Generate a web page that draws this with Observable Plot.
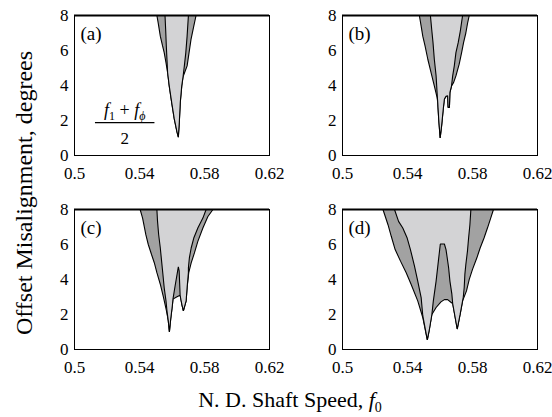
<!DOCTYPE html>
<html><head><meta charset="utf-8">
<script src="https://cdn.jsdelivr.net/npm/d3@7"></script>
<script src="https://cdn.jsdelivr.net/npm/@observablehq/plot@0.6"></script>
<style>html,body{margin:0;padding:0;background:#fff}</style>
</head><body><div id="chart"></div>
<script>
// ---- data ----
const panels = ["a", "b", "c", "d"];
const panelCol = [0, 1, 0, 1];
const panelRow = [0, 0, 1, 1];
const xTicks = [0.5, 0.54, 0.58, 0.62];
const yTicks = [0, 2, 4, 6, 8];

// boundary vertices [f0, misalignment] of the outer (dark) and inner (light) regions
const aDark = [[0.5507,8],[0.5515,7.58],[0.5528,6.82],[0.5542,6.26],[0.5552,5.88],[0.5563,5.31],[0.5573,4.74],[0.5583,3.98],[0.5598,3.04],[0.5614,2.09],[0.5631,1.34],[0.5639,1.05],[0.5645,1.9],[0.5651,3.04],[0.5660,3.98],[0.5668,4.5],[0.5693,5.12],[0.5705,5.88],[0.5717,6.64],[0.5734,7.39],[0.5748,8]];
const aLight = [[0.5557,8],[0.5561,7.2],[0.5565,6.26],[0.5569,5.5],[0.5573,4.74],[0.5583,3.98],[0.5598,3.04],[0.5614,2.09],[0.5631,1.34],[0.5639,1.05],[0.5645,1.9],[0.5651,3.04],[0.5660,3.98],[0.5668,4.5],[0.5676,5.12],[0.5685,5.88],[0.5693,6.82],[0.5701,8]];
const bDark = [[0.5473,8],[0.5484,7.39],[0.5494,6.82],[0.5508,6.26],[0.5525,5.5],[0.5545,4.74],[0.5565,3.98],[0.5582,3.32],[0.5586,3.04],[0.5592,2.09],[0.5601,1.0],[0.5610,1.71],[0.5620,2.66],[0.5627,3.23],[0.5637,3.38],[0.5647,3.41],[0.5650,2.75],[0.5658,2.75],[0.5661,3.6],[0.5671,3.98],[0.5684,4.18],[0.5698,4.55],[0.5718,5.22],[0.5733,5.88],[0.5745,6.45],[0.5759,7.0],[0.5770,7.58],[0.5780,8]];
const bLight = [[0.5541,8],[0.5549,7.2],[0.5557,6.45],[0.5565,5.5],[0.5576,4.55],[0.5582,3.6],[0.5586,3.04],[0.5592,2.09],[0.5601,1.0],[0.5610,1.71],[0.5620,2.66],[0.5627,3.23],[0.5637,3.38],[0.5647,3.41],[0.5650,2.75],[0.5658,2.75],[0.5661,3.6],[0.5671,3.98],[0.5678,4.55],[0.5688,5.12],[0.5698,5.88],[0.5712,6.45],[0.5725,7.11],[0.5739,8]];
const cDark = [[0.5404,8],[0.5419,7.51],[0.5429,7.04],[0.5439,6.56],[0.5454,6.0],[0.5474,5.43],[0.5491,4.96],[0.5507,4.39],[0.5528,3.73],[0.5548,2.97],[0.5566,2.21],[0.5577,1.65],[0.5584,1.0],[0.5592,1.74],[0.5602,2.5],[0.5606,2.88],[0.5628,3.0],[0.5650,3.1],[0.5660,2.6],[0.5670,2.21],[0.5687,2.78],[0.5693,3.54],[0.5703,4.39],[0.5718,4.95],[0.5738,5.52],[0.5759,6.18],[0.5790,6.94],[0.5821,7.6],[0.5852,8]];
const cLight = [[0.5507,8],[0.5511,7.32],[0.5518,6.56],[0.5528,5.80],[0.5536,5.05],[0.5544,4.30],[0.5552,3.53],[0.5563,2.78],[0.5569,2.21],[0.5577,1.65],[0.5584,1.0],[0.5592,1.74],[0.5602,2.5],[0.5606,2.88],[0.5619,3.63],[0.5633,4.39],[0.5639,4.72],[0.5644,4.5],[0.5647,3.8],[0.5650,3.1],[0.5660,2.6],[0.5670,2.21],[0.5687,2.78],[0.5693,3.54],[0.5701,4.4],[0.5701,4.67],[0.5707,5.24],[0.5718,5.80],[0.5734,6.37],[0.5759,6.94],[0.5790,7.51],[0.5810,8]];
const dDark = [[0.5249,8],[0.5280,7.13],[0.5300,6.47],[0.5324,5.71],[0.5357,5.05],[0.5392,4.39],[0.5422,3.73],[0.5463,2.78],[0.5494,1.83],[0.5522,0.55],[0.5535,1.17],[0.5550,2.0],[0.5576,2.40],[0.5606,2.72],[0.5627,2.85],[0.5647,2.85],[0.5667,2.70],[0.5678,2.63],[0.5706,1.17],[0.5724,2.02],[0.5739,2.78],[0.5763,3.35],[0.5780,4.01],[0.5800,4.58],[0.5827,5.24],[0.5847,5.80],[0.5871,6.37],[0.5892,6.94],[0.5912,7.51],[0.5929,8]];
const dLight = [[0.5320,8],[0.5345,7.32],[0.5371,6.94],[0.5398,6.37],[0.5418,5.71],[0.5443,4.77],[0.5463,3.91],[0.5484,2.97],[0.5494,1.93],[0.5522,0.55],[0.5535,1.17],[0.5550,2.0],[0.5559,2.78],[0.5576,3.91],[0.5590,5.05],[0.5602,6.03],[0.5627,6.03],[0.5637,5.71],[0.5643,5.33],[0.5653,4.67],[0.5661,3.91],[0.5673,3.16],[0.5678,2.63],[0.5706,1.17],[0.5724,2.02],[0.5739,2.78],[0.5743,2.97],[0.5749,3.54],[0.5753,4.29],[0.5759,4.86],[0.5769,5.62],[0.5776,6.37],[0.5784,7.13],[0.5790,8]];

const darkSets = [aDark, bDark, cDark, dDark];
const lightSets = [aLight, bLight, cLight, dLight];

// ---- build table ----
function toRows(sets, kind) {
  const out = [];
  sets.forEach((pts, i) => pts.forEach(([x, y]) =>
    out.push({key: panels[i] + kind, x, y, col: panelCol[i], row: panelRow[i]})));
  return out;
}
const darkRows = toRows(darkSets, "dark");
const lightRows = toRows(lightSets, "light");

const FONT = "Liberation Serif";
const DARK = "#a2a2a2";
const LIGHT = "#d3d3d5";

const chart = Plot.plot({
  width: 552, height: 417,
  marginTop: 15, marginBottom: 68, marginLeft: 74, marginRight: 15,
  style: {fontFamily: FONT, fontSize: "17px", background: "white", color: "black"},
  fx: {domain: [0, 1], paddingInner: 0.2724, paddingOuter: 0, axis: null},
  fy: {domain: [0, 1], paddingInner: 0.2784, paddingOuter: 0, axis: null},
  x: {domain: [0.5, 0.62]},
  y: {domain: [0, 8]},
  marks: [
    Plot.line(darkRows, {x: "x", y: "y", z: "key", fx: "col", fy: "row", fill: DARK, stroke: "black", strokeWidth: 1.1, strokeLinejoin: "miter", strokeLinecap: "butt"}),
    Plot.line(lightRows, {x: "x", y: "y", z: "key", fx: "col", fy: "row", fill: LIGHT, stroke: "black", strokeWidth: 1.1, strokeLinejoin: "miter", strokeLinecap: "butt"}),
    Plot.ruleY([8], {stroke: "black", strokeWidth: 2.2}),
    Plot.frame({stroke: "black", strokeWidth: 1}),
    Plot.axisX({ticks: xTicks, tickSize: 0, tickPadding: 11, tickFormat: d => String(d), facetAnchor: null, label: null, fontSize: 17, fontFamily: FONT}),
    Plot.axisY({ticks: yTicks, tickSize: 0, tickPadding: 6, facetAnchor: null, label: null, fontSize: 17, fontFamily: FONT}),
    Plot.text(panels, {fx: (d, i) => panelCol[i], fy: (d, i) => panelRow[i], text: d => `(${d})`, frameAnchor: "top-left", dx: 6, dy: 11, lineAnchor: "top", textAnchor: "start", fontSize: 19, fontFamily: FONT})
  ]
});
document.getElementById("chart").appendChild(chart);

// ---- annotations (titles and the frequency fraction) ----
const svg = d3.select(chart);
const fxS = chart.scale("fx"), fyS = chart.scale("fy");
const left0 = fxS.apply(0), bw = fxS.bandwidth;
const top0 = fyS.apply(0), bh = fyS.bandwidth;
const xa = d3.scaleLinear([0.5, 0.62], [left0, left0 + bw]);
const ya = d3.scaleLinear([0, 8], [top0 + bh, top0]);

const fracX = 0.5312, fracY = 1.85, fracHalf = 0.0183;
const g = svg.append("g").attr("font-family", FONT).attr("fill", "black");
g.append("line").attr("x1", xa(fracX - fracHalf)).attr("x2", xa(fracX + fracHalf))
  .attr("y1", ya(fracY)).attr("y2", ya(fracY)).attr("stroke", "black").attr("stroke-width", 1.2);
const num = g.append("text").attr("x", xa(fracX)).attr("y", ya(fracY) - 6.5)
  .attr("text-anchor", "middle").attr("font-size", 18);
num.append("tspan").attr("font-style", "italic").text("f");
num.append("tspan").attr("font-size", 12).attr("dy", 4).text("1");
num.append("tspan").attr("dy", -4).text(" + ");
num.append("tspan").attr("font-style", "italic").text("f");
num.append("tspan").attr("font-size", 12).attr("font-style", "italic").attr("dy", 4).text("\u03d5");
g.append("text").attr("x", xa(fracX)).attr("y", ya(fracY) + 21)
  .attr("text-anchor", "middle").attr("font-size", 17).text("2");

const xl = g.append("text").attr("x", 290).attr("y", 407).attr("text-anchor", "middle").attr("font-size", 22);
xl.append("tspan").text("N. D. Shaft Speed, ");
xl.append("tspan").attr("font-style", "italic").text("f");
xl.append("tspan").attr("font-size", 14).attr("dy", 5).text("0");

g.append("text").attr("transform", "translate(32,193) rotate(-90)")
  .attr("text-anchor", "middle").attr("font-size", 24).text("Offset Misalignment, degrees");
</script></body></html>
